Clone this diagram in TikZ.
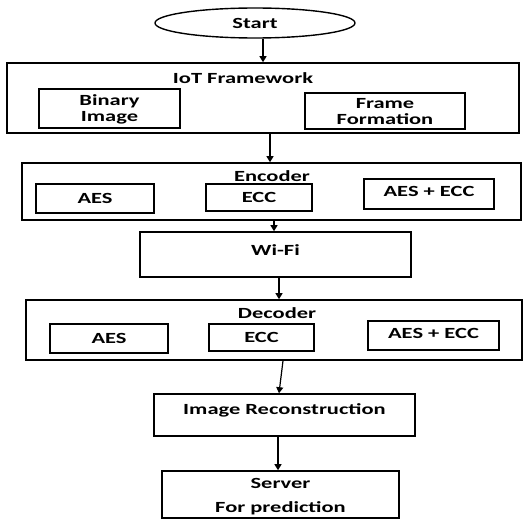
\documentclass[tikz,border=0pt]{standalone}
\usepackage{fontspec}
\setmainfont{Carlito}[FakeStretch=1.45]
\usetikzlibrary{shapes.geometric,arrows.meta}
\begin{document}
\begin{tikzpicture}[x=1pt,y=-1pt,
  box/.style={draw,line width=1.6pt,inner sep=0pt,anchor=center},
  lbl/.style={inner sep=0pt,font=\fontsize{15.5}{16}\selectfont\bfseries,align=center},
  arr/.style={line width=1.2pt,-{Triangle[length=6pt,width=7pt]}}]
\useasboundingbox (0,0) rectangle (528,519);
% Start
\node[draw,ellipse,line width=1.4pt,minimum width=200pt,minimum height=30pt,inner sep=0pt] (start) at (255,23) {};
\node[lbl] (starttxt) at (255,23) {Start};
% IoT framework
\node[box,minimum width=512pt,minimum height=70pt] (iot) at (263,98) {};
\node[lbl] (iottitle) at (243,78) {IoT Framework};
\node[box,minimum width=141pt,minimum height=39pt] (bin) at (109.5,108.5) {};
\node[lbl] (bintxt) at (109.5,109) {Binary\\Image};
\node[box,minimum width=160pt,minimum height=36pt] (frame) at (385,111) {};
\node[lbl] (frametxt) at (385,112) {Frame\\Formation};
% Encoder
\node[box,minimum width=499pt,minimum height=57pt] (enc) at (271.5,191.5) {};
\node[lbl] (enctitle) at (272,176) {Encoder};
\node[box,minimum width=118pt,minimum height=29pt] (eaes) at (95,198.5) {};
\node[lbl] (eaestxt) at (95,198.5) {AES};
\node[box,minimum width=106pt,minimum height=27pt] (eecc) at (259,197.5) {};
\node[lbl] (eecctxt) at (259,197.5) {ECC};
\node[box,minimum width=130pt,minimum height=30pt] (eboth) at (429,194) {};
\node[lbl] (ebothtxt) at (429,191) {AES + ECC};
% Wi-Fi
\node[box,minimum width=271pt,minimum height=45pt] (wifi) at (275.5,254.5) {};
\node[lbl] (wifitxt) at (275.5,250) {Wi-Fi};
% Decoder
\node[box,minimum width=496pt,minimum height=60pt] (dec) at (274,330) {};
\node[lbl] (dectitle) at (277,313) {Decoder};
\node[box,minimum width=118pt,minimum height=29pt] (daes) at (109,338.5) {};
\node[lbl] (daestxt) at (109,338.5) {AES};
\node[box,minimum width=105pt,minimum height=27pt] (decc) at (261.5,337.5) {};
\node[lbl] (decctxt) at (261.5,337.5) {ECC};
\node[box,minimum width=131pt,minimum height=29pt] (dboth) at (433.5,335.5) {};
\node[lbl] (dbothtxt) at (433.5,333) {AES + ECC};
% Image reconstruction
\node[box,minimum width=261pt,minimum height=42pt] (imrec) at (284.5,415) {};
\node[lbl] (imrectxt) at (284.5,410) {Image Reconstruction};
% Server
\node[box,minimum width=237pt,minimum height=47pt] (server) at (280.5,494.5) {};
\node[lbl] (servertxt) at (280.5,483) {Server};
\node[lbl] (predtxt) at (280.5,508) {For prediction};
% arrows
\draw[arr] ([xshift=8pt]start.south) -- ([xshift=8pt]start.south |- iot.north);
\draw[arr] ([xshift=7pt]iot.south) -- ([xshift=7pt]iot.south |- enc.north);
\draw[arr] ([xshift=2.5pt]enc.south) -- ([xshift=2.5pt]enc.south |- wifi.north);
\draw[arr] ([xshift=3.5pt]wifi.south) -- ([xshift=3.5pt]wifi.south |- dec.north);
\draw[arr] ([xshift=9pt]dec.south) -- ([xshift=-5.5pt]imrec.north);
\draw[arr] ([xshift=-6.5pt]imrec.south) -- ([xshift=-6.5pt]imrec.south |- server.north);
\end{tikzpicture}
\end{document}
